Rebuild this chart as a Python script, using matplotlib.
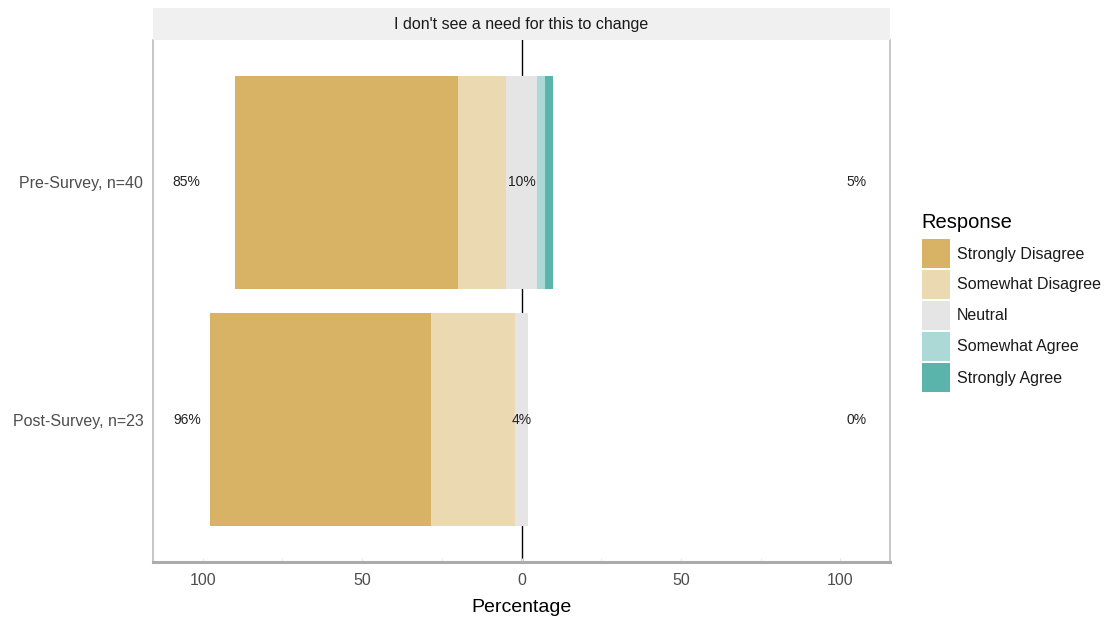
import matplotlib.pyplot as plt
from matplotlib.patches import Rectangle

plt.rcParams["font.family"] = ["Liberation Sans", "DejaVu Sans"]

# === DATA ===
groups = ["Post-Survey, n=23", "Pre-Survey, n=40"]
levels = ["Strongly Disagree", "Somewhat Disagree", "Neutral", "Somewhat Agree", "Strongly Agree"]
strongly_disagree = [69.6, 70.0]
somewhat_disagree = [26.1, 15.0]
neutral = [4.3, 10.0]
somewhat_agree = [0.0, 2.5]
strongly_agree = [0.0, 2.5]
low_labels = ["96%", "85%"]
mid_labels = ["4%", "10%"]
high_labels = ["0%", "5%"]
title = "I don't see a need for this to change"
tick_vals = [-100, -50, 0, 50, 100]
tick_text = ["100", "50", "0", "50", "100"]

colors = ["#D8B365", "#EBD9B2", "#E5E5E5", "#ACD9D5", "#5AB4AC"]

# === FIGURE ===
fig = plt.figure(figsize=(11.2, 6.2), dpi=100)
ax = fig.add_axes([153 / 1120, 58 / 620, 737 / 1120, 522 / 620])
ax.set_xlim(-115.6, 115.6)
ax.set_ylim(0.4, 2.6)

ypos = [1, 2]
bar_h = 0.9

# zero line behind the bars
ax.axvline(0, color="black", lw=1.0, zorder=1)

for i, y in enumerate(ypos):
    half_n = neutral[i] / 2
    # negative side: neutral half, somewhat disagree, strongly disagree
    left = -half_n
    ax.barh(y, half_n * 2, left=left, height=bar_h, color=colors[2], zorder=2, lw=0)
    ax.barh(y, somewhat_disagree[i], left=left - somewhat_disagree[i], height=bar_h,
            color=colors[1], zorder=2, lw=0)
    ax.barh(y, strongly_disagree[i], left=left - somewhat_disagree[i] - strongly_disagree[i],
            height=bar_h, color=colors[0], zorder=2, lw=0)
    # positive side
    right = half_n
    ax.barh(y, somewhat_agree[i], left=right, height=bar_h, color=colors[3], zorder=2, lw=0)
    ax.barh(y, strongly_agree[i], left=right + somewhat_agree[i], height=bar_h,
            color=colors[4], zorder=2, lw=0)

    ax.text(-105, y, low_labels[i], ha="center", va="center", fontsize=10, color="#222222", zorder=3)
    ax.text(0, y, mid_labels[i], ha="center", va="center", fontsize=10, color="#222222", zorder=3)
    ax.text(105, y, high_labels[i], ha="center", va="center", fontsize=10, color="#222222", zorder=3)

ax.set_yticks(ypos)
ax.set_yticklabels(groups, fontsize=11.5, color="#4D4D4D")
ax.set_xticks(tick_vals)
ax.set_xticklabels(tick_text, fontsize=11.5, color="#4D4D4D")
ax.set_xticks([-75, -25, 25, 75], minor=True)
ax.tick_params(axis="y", length=0, pad=7)
ax.tick_params(axis="x", which="both", length=3, color="#E8E8E8", direction="in", pad=8)
ax.set_xlabel("Percentage", fontsize=14, color="black", labelpad=8)

for side in ["left", "right"]:
    ax.spines[side].set_color("#BDBDBD")
    ax.spines[side].set_linewidth(1.2)
ax.spines["bottom"].set_color("#ABABAB")
ax.spines["bottom"].set_linewidth(2.2)
ax.spines["top"].set_visible(False)

# strip header
strip = fig.add_axes([153 / 1120, 580 / 620, 737 / 1120, 32 / 620])
strip.set_xticks([])
strip.set_yticks([])
strip.set_facecolor("#F0F0F0")
for s in strip.spines.values():
    s.set_visible(False)
strip.text(0.5, 0.5, title, ha="center", va="center", fontsize=11.5, color="#1A1A1A",
           transform=strip.transAxes)

# legend
fig.text(921 / 1120, 1 - 222 / 620, "Response", fontsize=14.5, ha="left", va="center")
for k, lab in enumerate(levels):
    top = 239 + k * 31
    fig.patches.append(Rectangle((922 / 1120, 1 - (top + 29) / 620), 28 / 1120, 29 / 620,
                                 transform=fig.transFigure, facecolor=colors[k],
                                 edgecolor="none", figure=fig))
    fig.text(957 / 1120, 1 - (top + 15) / 620, lab, fontsize=11.5, ha="left", va="center",
             color="#1A1A1A")

plt.savefig("out.png", dpi=100)
plt.close()
